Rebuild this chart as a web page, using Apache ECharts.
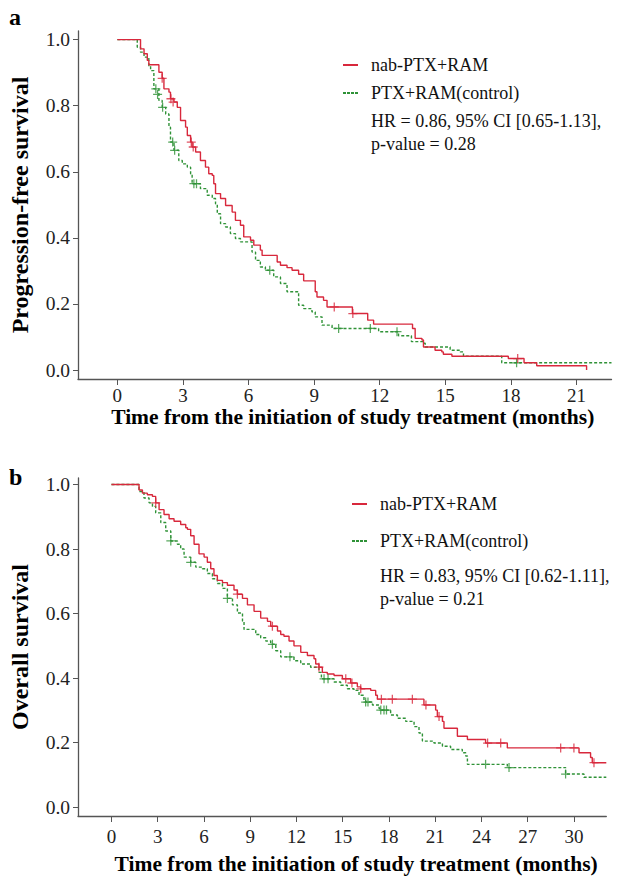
<!DOCTYPE html>
<html>
<head>
<meta charset="utf-8">
<script src="https://cdn.jsdelivr.net/npm/echarts@6/dist/echarts.min.js"></script>
<style>
  html, body { margin: 0; padding: 0; background: #fff; }
  #chart { width: 627px; height: 876px; }
</style>
</head>
<body>
<div id="chart"></div>
<script>
// ---- data: [months, survival probability] ----
var seriesNames = ['nab-PTX+RAM', 'PTX+RAM(control)'];
var pfsTicks = [0, 3, 6, 9, 12, 15, 18, 21];
var osTicks = [0, 3, 6, 9, 12, 15, 18, 21, 24, 27, 30];
var survTicks = [0, 0.2, 0.4, 0.6, 0.8, 1.0];

var pfsNab = [[0,1],[1.06,0.972],[1.22,0.957],[1.37,0.937],[1.44,0.924],[1.90,0.901],[2.05,0.883],[2.13,0.851],[2.36,0.841],[2.43,0.821],[2.59,0.811],[2.74,0.795],[2.89,0.755],[3.12,0.735],[3.20,0.710],[3.35,0.690],[3.42,0.675],[3.58,0.660],[3.80,0.634],[4.03,0.614],[4.18,0.594],[4.34,0.589],[4.41,0.564],[4.49,0.534],[4.72,0.519],[4.95,0.498],[5.25,0.478],[5.40,0.453],[5.63,0.438],[5.78,0.403],[6.09,0.393],[6.24,0.378],[6.54,0.363],[6.62,0.347],[7.31,0.327],[7.46,0.317],[7.76,0.310],[7.99,0.302],[8.29,0.290],[8.52,0.270],[9.05,0.237],[9.13,0.221],[9.43,0.211],[9.59,0.191],[10.75,0.171],[11.45,0.151],[11.72,0.139],[13.50,0.126],[13.62,0.096],[13.93,0.091],[14.0,0.070],[14.53,0.060],[14.84,0.055],[14.91,0.048],[15.30,0.042],[17.88,0.035],[18.60,0.022],[19.18,0.013],[21.46,0.0]];
var pfsNabCens = [[2.05,0.883],[2.45,0.821],[2.55,0.811],[3.38,0.690],[3.47,0.675],[9.92,0.191],[10.77,0.171],[18.31,0.035]];

var pfsCtl = [[0,1],[0.91,0.977],[1.06,0.962],[1.22,0.947],[1.44,0.921],[1.52,0.906],[1.67,0.851],[1.90,0.816],[2.05,0.795],[2.21,0.775],[2.36,0.735],[2.43,0.690],[2.59,0.665],[2.81,0.634],[2.97,0.624],[3.20,0.614],[3.35,0.594],[3.42,0.564],[3.80,0.549],[4.11,0.529],[4.34,0.519],[4.49,0.503],[4.57,0.473],[4.72,0.443],[4.95,0.433],[5.17,0.413],[5.40,0.398],[5.63,0.388],[6.16,0.357],[6.32,0.332],[6.54,0.312],[6.77,0.302],[7.15,0.282],[7.46,0.262],[7.76,0.237],[8.29,0.196],[8.52,0.186],[8.90,0.176],[9.05,0.161],[9.36,0.136],[9.82,0.126],[11.95,0.116],[12.86,0.104],[13.45,0.086],[14.0,0.081],[14.08,0.070],[15.22,0.060],[15.68,0.055],[15.83,0.042],[17.58,0.022],[22.6,0.022]];
var pfsCtlCens = [[1.76,0.851],[1.84,0.834],[2.07,0.795],[2.53,0.690],[2.62,0.665],[3.50,0.564],[3.62,0.564],[6.97,0.302],[10.12,0.126],[11.57,0.126],[12.79,0.116],[18.26,0.022]];

var osNab = [[0,1],[1.79,0.983],[2.01,0.973],[2.33,0.968],[2.66,0.963],[2.87,0.943],[3.09,0.922],[3.41,0.907],[3.74,0.894],[4.06,0.886],[4.49,0.876],[4.82,0.866],[4.93,0.861],[5.14,0.841],[5.36,0.815],[5.68,0.785],[6.01,0.775],[6.22,0.759],[6.44,0.739],[6.65,0.718],[6.87,0.703],[7.20,0.696],[7.52,0.688],[7.95,0.673],[8.17,0.660],[8.50,0.647],[8.82,0.627],[9.25,0.607],[9.68,0.586],[10.12,0.576],[10.33,0.561],[10.77,0.546],[10.98,0.535],[11.19,0.530],[11.52,0.515],[11.84,0.500],[12.28,0.480],[12.71,0.470],[13.14,0.460],[13.25,0.444],[13.46,0.434],[13.68,0.418],[14.0,0.413],[14.44,0.408],[14.98,0.398],[15.52,0.385],[15.95,0.373],[16.17,0.367],[16.82,0.362],[17.14,0.347],[17.25,0.335],[20.27,0.317],[21.03,0.301],[21.14,0.281],[21.47,0.266],[21.57,0.245],[22.44,0.220],[23.09,0.210],[24.27,0.199],[25.68,0.184],[30.33,0.169],[31.08,0.154],[31.19,0.138],[32.1,0.138]];
var osNabCens = [[2.87,0.943],[8.17,0.660],[10.44,0.561],[13.46,0.434],[15.20,0.398],[15.60,0.385],[16.17,0.367],[17.51,0.335],[18.22,0.335],[19.52,0.335],[20.40,0.317],[21.25,0.281],[24.40,0.199],[25.25,0.199],[29.14,0.184],[30.0,0.184],[31.30,0.138]];

var osCtl = [[0,1],[1.79,0.978],[2.11,0.958],[2.44,0.943],[2.66,0.932],[2.87,0.912],[3.20,0.882],[3.52,0.856],[3.85,0.825],[4.28,0.815],[4.49,0.800],[4.71,0.775],[5.14,0.759],[5.47,0.744],[5.90,0.739],[6.22,0.724],[6.55,0.708],[6.87,0.693],[7.20,0.678],[7.52,0.647],[7.85,0.627],[8.17,0.602],[8.50,0.576],[8.60,0.551],[9.36,0.535],[9.68,0.525],[10.01,0.515],[10.33,0.505],[10.66,0.485],[10.98,0.466],[11.84,0.454],[12.28,0.444],[12.92,0.434],[13.46,0.418],[13.62,0.398],[14.44,0.388],[14.87,0.378],[15.30,0.367],[15.73,0.362],[16.06,0.347],[16.38,0.332],[16.49,0.326],[16.93,0.317],[17.36,0.306],[17.47,0.301],[18.11,0.286],[18.55,0.276],[19.09,0.266],[19.63,0.250],[19.95,0.230],[20.17,0.205],[20.92,0.199],[21.47,0.189],[22.0,0.179],[22.76,0.169],[22.98,0.159],[23.09,0.133],[25.68,0.123],[29.46,0.103],[30.65,0.093],[32.1,0.093]];
var osCtlCens = [[3.85,0.825],[5.14,0.759],[7.52,0.647],[10.44,0.505],[11.58,0.466],[13.79,0.398],[14.05,0.398],[16.49,0.326],[16.64,0.326],[17.47,0.301],[17.68,0.301],[17.84,0.301],[24.27,0.133],[25.79,0.123],[29.46,0.103]];

var pfsStats = ['HR = 0.86, 95% CI [0.65-1.13],', 'p-value = 0.28'];
var osStats = ['HR = 0.83, 95% CI [0.62-1.11],', 'p-value = 0.21'];

// ---- style ----
var RED = '#d8283c';
var GREEN = '#2f9237';
var AXIS = '#555';
var SERIF = '"Liberation Serif", "Times New Roman", serif';
var PLUS = 'path://M4.3,0H5.7V4.3H10V5.7H5.7V10H4.3V5.7H0V4.3H4.3Z';
var ICON_SOLID = 'path://M0,0H15V2H0Z';
var ICON_DASH = 'path://M0,0H3V2H0ZM4,0H7V2H4ZM8,0H11V2H8ZM12,0H15V2H12Z';

function xAxis(gridIndex, min, max, ticks, margin, gap, shift) {
    return {
        type: 'value', gridIndex: gridIndex, min: min, max: max,
        name: 'Time from the initiation of study treatment (months)',
        nameLocation: 'middle', nameGap: gap,
        nameTextStyle: {
            fontFamily: SERIF, fontWeight: 'bold', fontSize: 21.5, color: '#000',
            padding: [0, 0, 0, shift]
        },
        splitLine: { show: false },
        axisLine: { onZero: false, lineStyle: { color: AXIS, width: 1.3 } },
        axisTick: { length: 6, lineStyle: { color: AXIS }, customValues: ticks },
        axisLabel: { margin: margin, fontFamily: SERIF, fontSize: 19, color: '#222', customValues: ticks }
    };
}

function yAxis(gridIndex, max, name) {
    return {
        type: 'value', gridIndex: gridIndex, min: -0.027, max: max,
        name: name, nameLocation: 'middle', nameGap: 46,
        nameTextStyle: { fontFamily: SERIF, fontWeight: 'bold', fontSize: 24, color: '#000' },
        splitLine: { show: false },
        axisLine: { show: true, onZero: false, lineStyle: { color: AXIS, width: 1.3 } },
        axisTick: { show: true, length: 5, lineStyle: { color: AXIS }, customValues: survTicks },
        axisLabel: {
            margin: 8, fontFamily: SERIF, fontSize: 19.5, color: '#222', customValues: survTicks,
            formatter: function (v) { return v.toFixed(1); }
        }
    };
}

function curve(name, data, color, idx, dashed) {
    return {
        name: name, type: 'line', step: 'end', data: data,
        xAxisIndex: idx, yAxisIndex: idx,
        symbol: 'none', showSymbol: false, silent: true,
        color: color,
        lineStyle: { color: color, width: 1.4, type: dashed ? [3, 2] : 'solid' }
    };
}

function censor(name, data, color, idx) {
    return {
        name: name, type: 'scatter', data: data,
        xAxisIndex: idx, yAxisIndex: idx,
        symbol: PLUS, symbolSize: 9, silent: true,
        itemStyle: { color: color }, z: 3
    };
}

function legend(left, top, gap) {
    return {
        data: [
            { name: seriesNames[0], icon: ICON_SOLID },
            { name: seriesNames[1], icon: ICON_DASH }
        ],
        orient: 'vertical', left: left, top: top, padding: 0,
        itemWidth: 15, itemHeight: 2, itemGap: gap,
        textStyle: { fontFamily: SERIF, fontSize: 18, color: '#111', padding: [0, 0, 0, 8] }
    };
}

function statText(lines, left, top) {
    return lines.map(function (t, i) {
        return {
            type: 'text', left: left, top: top + i * 23,
            style: { text: t, fontFamily: SERIF, fontSize: 18, fill: '#111' }
        };
    });
}

var chart = echarts.init(document.getElementById('chart'), null, { renderer: 'svg' });

chart.setOption({
    backgroundColor: '#fff',
    animation: false,
    grid: [
        { left: 77.5, top: 31, width: 534, height: 348 },
        { left: 77.3, top: 478, width: 529, height: 343 }
    ],
    xAxis: [
        xAxis(0, -1.8, 22.6, pfsTicks, 7, 24, 16),
        xAxis(1, -2.17, 32.1, osTicks, 11, 37, 28)
    ],
    yAxis: [
        yAxis(0, 1.026, 'Progression-free survival'),
        yAxis(1, 1.02, 'Overall survival')
    ],
    legend: [
        legend(343, 56, 10),
        legend(352, 495, 19)
    ],
    graphic: [
        { type: 'text', left: 9, top: 5, style: { text: 'a', fontFamily: SERIF, fontWeight: 'bold', fontSize: 24, fill: '#000' } },
        { type: 'text', left: 9, top: 465, style: { text: 'b', fontFamily: SERIF, fontWeight: 'bold', fontSize: 24, fill: '#000' } }
    ].concat(statText(pfsStats, 371, 112), statText(osStats, 380, 567)),
    series: [
        curve(seriesNames[1], pfsCtl, GREEN, 0, true),
        curve(seriesNames[0], pfsNab, RED, 0, false),
        censor('pfs-ctl-censored', pfsCtlCens, GREEN, 0),
        censor('pfs-nab-censored', pfsNabCens, RED, 0),
        curve(seriesNames[1], osCtl, GREEN, 1, true),
        curve(seriesNames[0], osNab, RED, 1, false),
        censor('os-ctl-censored', osCtlCens, GREEN, 1),
        censor('os-nab-censored', osNabCens, RED, 1)
    ]
});
</script>
</body>
</html>
